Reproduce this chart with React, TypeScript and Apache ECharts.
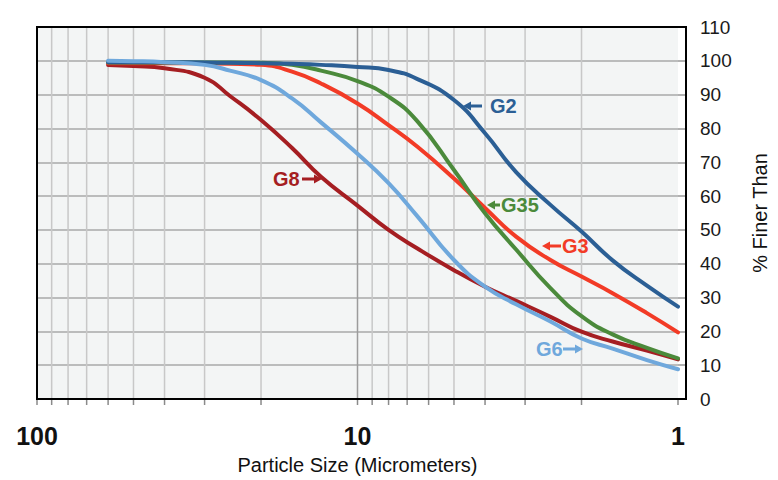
import React, { useEffect, useRef } from "react";
import * as echarts from "echarts";

// ---- data (particle size in micrometers, % finer than) ----
const sizes = [60, 50, 40, 30, 25, 20, 16, 13, 10, 8, 6.5, 5, 4, 3.2, 2.5, 2, 1.6, 1.25, 1];
const g2Values = [99.6, 99.6, 99.6, 99.5, 99.4, 99.3, 99.1, 98.8, 98.2, 97.3, 94.6, 88.4, 78.6, 67.1, 57.4, 49.5, 41.0, 33.5, 27.3];
const g35Values = [99.5, 99.5, 99.5, 99.5, 99.5, 99.4, 98.8, 97.1, 94.0, 89.4, 82.1, 67.7, 54.9, 44.2, 32.8, 24.5, 19.1, 15.1, 12.0];
const g3Values = [99.3, 99.3, 99.3, 99.2, 99.1, 98.8, 96.8, 93.3, 87.4, 81.0, 74.6, 65.2, 56.5, 48.0, 41.1, 36.2, 31.3, 25.4, 19.7];
const g6Values = [100, 99.9, 99.6, 98.8, 97.1, 94.3, 88.9, 81.8, 72.5, 63.8, 54.0, 41.1, 33.2, 28.0, 22.9, 17.9, 14.9, 11.5, 8.8];
const g8Values = [98.8, 98.5, 97.8, 95.0, 89.6, 82.5, 74.2, 65.7, 57.2, 50.0, 44.5, 38.1, 33.2, 29.0, 24.3, 19.9, 17.0, 14.3, 11.7];

const minorGridSizes = [2, 3, 4, 5, 6, 7, 8, 9, 20, 30, 40, 50, 60, 70, 80, 90];
const majorGridSizes = [10];
const edgeTickSizes = [1, 100];

const FONT = "'Liberation Sans', Arial, Helvetica, sans-serif";

const C_G2 = "#2b5f95";
const C_G3 = "#f23b26";
const C_G35 = "#4b8a3b";
const C_G6 = "#6fa8dc";
const C_G8 = "#a51e22";

function pair(xs: number[], ys: number[]) {
  return xs.map((x, i) => [x, ys[i]]);
}

function leftArrow(tipX: number, y: number, len: number, color: string) {
  const h = 8;
  return {
    type: "polygon",
    z: 50,
    silent: true,
    shape: {
      points: [
        [tipX, y],
        [tipX + h, y - 4.5],
        [tipX + h, y - 1.6],
        [tipX + len, y - 1.6],
        [tipX + len, y + 1.6],
        [tipX + h, y + 1.6],
        [tipX + h, y + 4.5],
      ],
    },
    style: { fill: color },
  };
}

function rightArrow(tipX: number, y: number, len: number, color: string) {
  const h = 8;
  return {
    type: "polygon",
    z: 50,
    silent: true,
    shape: {
      points: [
        [tipX, y],
        [tipX - h, y - 4.5],
        [tipX - h, y - 1.6],
        [tipX - len, y - 1.6],
        [tipX - len, y + 1.6],
        [tipX - h, y + 1.6],
        [tipX - h, y + 4.5],
      ],
    },
    style: { fill: color },
  };
}

function label(text: string, x: number, y: number, color: string) {
  return {
    type: "text",
    z: 50,
    silent: true,
    x,
    y,
    style: {
      text,
      fill: color,
      font: `bold 20px ${FONT}`,
      textAlign: "left",
      textVerticalAlign: "middle",
    },
  };
}

export default function App() {
  const ref = useRef<HTMLDivElement>(null);

  useEffect(() => {
    document.body.style.margin = "0";
    document.documentElement.style.overflow = "hidden";
    const chart = echarts.init(ref.current!, null, { renderer: "svg" });

    const lineSeries = (name: string, color: string, ys: number[], z: number) => ({
      type: "line",
      name,
      data: pair(sizes, ys),
      smooth: 0.5,
      symbol: "none",
      showSymbol: false,
      silent: true,
      z,
      lineStyle: { color, width: 4, cap: "round", join: "round" },
    });

    const gridData = [
      ...minorGridSizes.map((v) => [v, 0, 0]),
      ...majorGridSizes.map((v) => [v, 0, 1]),
      ...edgeTickSizes.map((v) => [v, 0, 2]),
    ];

    const option = {
      animation: false,
      backgroundColor: "#ffffff",
      textStyle: { fontFamily: FONT },
      grid: {
        left: 37,
        right: 92,
        top: 27,
        bottom: 81,
        show: true,
        backgroundColor: "#f3f5f5",
        borderWidth: 0,
      },
      xAxis: {
        type: "log",
        logBase: 10,
        min: 1,
        max: 100,
        inverse: true,
        axisLine: { show: false },
        axisTick: { show: false },
        splitLine: { show: false },
        minorTick: { show: false },
        axisLabel: {
          fontFamily: FONT,
          fontSize: 25,
          fontWeight: "bold",
          color: "#111",
          margin: 24,
        },
        name: "Particle Size (Micrometers)",
        nameLocation: "middle",
        nameGap: 56,
        nameTextStyle: { fontFamily: FONT, fontSize: 20, color: "#111" },
      },
      yAxis: {
        type: "value",
        position: "right",
        min: 0,
        max: 110,
        interval: 10,
        axisLine: { show: false },
        axisTick: { show: true, length: 7, lineStyle: { color: "#999", width: 1.5 } },
        splitLine: {
          show: true,
          showMinLine: false,
          showMaxLine: false,
          lineStyle: { color: "#a9a9a9", width: 1.5 },
        },
        axisLabel: {
          fontFamily: FONT,
          fontSize: 19,
          color: "#1a1a1a",
          margin: 22,
          align: "left",
        },
        name: "% Finer Than",
        nameLocation: "middle",
        nameRotate: 90,
        nameGap: 72,
        nameTextStyle: { fontFamily: FONT, fontSize: 20, color: "#111" },
      },
      series: [
        {
          type: "custom",
          silent: true,
          clip: false,
          z: 1,
          data: gridData,
          encode: { x: 0, y: 1 },
          renderItem: (params: any, api: any) => {
            const v = api.value(0);
            const kind = api.value(2);
            const bottom = api.coord([v, 0]);
            const top = api.coord([v, 110]);
            const children: any[] = [
              {
                type: "line",
                shape: { x1: bottom[0], y1: bottom[1], x2: bottom[0], y2: bottom[1] + 6 },
                style: { stroke: "#8a8a8a", lineWidth: 1.5 },
              },
            ];
            if (kind !== 2) {
              children.push({
                type: "line",
                shape: { x1: top[0], y1: top[1], x2: bottom[0], y2: bottom[1] },
                style: { stroke: kind === 1 ? "#9c9c9c" : "#c8c8c8", lineWidth: 1.5 },
              });
            }
            return { type: "group", children };
          },
        },
        lineSeries("G8", C_G8, g8Values, 3),
        lineSeries("G3", C_G3, g3Values, 4),
        lineSeries("G35", C_G35, g35Values, 5),
        lineSeries("G2", C_G2, g2Values, 6),
        lineSeries("G6", C_G6, g6Values, 7),
      ],
      graphic: [
        {
          type: "rect",
          z: 100,
          silent: true,
          shape: { x: 37, y: 27, width: 649, height: 372 },
          style: { fill: "none", stroke: "#000", lineWidth: 2 },
        },
        leftArrow(463, 106, 19, C_G2),
        label("G2", 490, 106, C_G2),
        leftArrow(487, 205, 13, C_G35),
        label("G35", 501, 205, C_G35),
        leftArrow(542, 246, 19, C_G3),
        label("G3", 562, 246, C_G3),
        label("G6", 536, 349, C_G6),
        rightArrow(583, 349, 20, C_G6),
        label("G8", 273, 179, C_G8),
        rightArrow(322, 179, 20, C_G8),
      ],
    };

    chart.setOption(option as any);
    return () => {
      chart.dispose();
    };
  }, []);

  return <div ref={ref} style={{ width: "100vw", height: "100vh" }} />;
}
